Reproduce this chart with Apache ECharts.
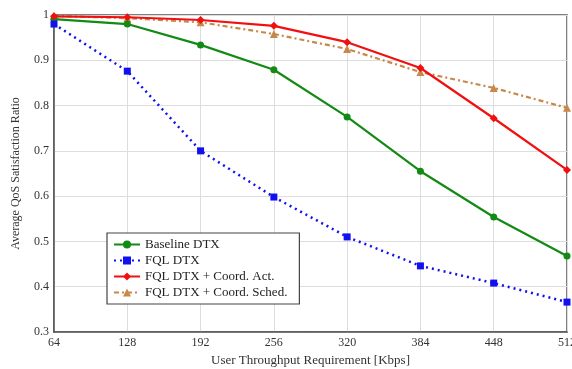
<!DOCTYPE html>
<html><head><meta charset="utf-8">
<script src="https://cdn.jsdelivr.net/npm/echarts@6/dist/echarts.min.js"></script>
<style>html,body{margin:0;padding:0;background:#fff}#c{width:572px;height:369px}</style>
</head><body><div id="c"></div>
<script>
const xValues = [64, 128, 192, 256, 320, 384, 448, 512];
const baselineDTX = [0.991, 0.980, 0.934, 0.879, 0.775, 0.655, 0.554, 0.468];
const fqlDTX = [0.980, 0.876, 0.700, 0.598, 0.510, 0.446, 0.408, 0.366];
const fqlCoordAct = [0.997, 0.995, 0.989, 0.976, 0.940, 0.883, 0.772, 0.658];
const fqlCoordSched = [0.998, 0.993, 0.984, 0.958, 0.925, 0.874, 0.839, 0.795];
const seriesNames = ['Baseline DTX', 'FQL DTX', 'FQL DTX + Coord. Act.', 'FQL DTX + Coord. Sched.'];

const pair = arr => xValues.map((x, i) => [x, arr[i]]);
const font = 'Liberation Serif, DejaVu Serif, serif';
const chart = echarts.init(document.getElementById('c'));
chart.setOption({
  animation: false,
  textStyle: {fontFamily: font},
  grid: {left: 54, right: 5, top: 15, bottom: 37, outerBoundsMode: 'none', containLabel: false,
    show: true, borderColor: '#555', borderWidth: 1.5, backgroundColor: 'transparent'},
  legend: {
    orient: 'vertical', left: 107, top: 233,
    backgroundColor: '#fff', borderColor: '#444', borderWidth: 1.2,
    padding: [5, 12, 5, 6], itemGap: 3, itemWidth: 26, itemHeight: 10,
    textStyle: {fontFamily: font, fontSize: 13, color: '#222'},
    data: seriesNames
  },
  xAxis: {
    type: 'value', min: 64, max: 512, interval: 64,
    name: 'User Throughput Requirement [Kbps]', nameLocation: 'middle', nameGap: 20,
    nameTextStyle: {fontFamily: font, fontSize: 13, color: '#333'},
    axisLine: {show: true, lineStyle: {color: '#555', width: 1.5}},
    axisTick: {show: false},
    axisLabel: {fontFamily: font, fontSize: 12, color: '#333', margin: 5},
    splitLine: {show: true, lineStyle: {color: '#ddd', width: 1}}
  },
  yAxis: {
    type: 'value', min: 0.3, max: 1, interval: 0.1,
    name: 'Average QoS Satisfaction Ratio', nameLocation: 'middle', nameGap: 32,
    nameTextStyle: {fontFamily: font, fontSize: 12, color: '#333'},
    axisLine: {show: true, lineStyle: {color: '#555', width: 1.5}},
    axisTick: {show: false},
    axisLabel: {fontFamily: font, fontSize: 12, color: '#333', margin: 5,
      formatter: v => (Math.abs(v - 1) < 1e-9 ? '1' : v.toFixed(1))},
    splitLine: {show: true, lineStyle: {color: '#ddd', width: 1}}
  },
  series: [
    {name: seriesNames[0], type: 'line', data: pair(baselineDTX), color: '#138a13',
     symbol: 'circle', symbolSize: 7, lineStyle: {width: 2.2}},
    {name: seriesNames[1], type: 'line', data: pair(fqlDTX), color: '#1010f0',
     symbol: 'rect', symbolSize: 7, lineStyle: {width: 2.5, type: [2, 4]}},
    {name: seriesNames[2], type: 'line', data: pair(fqlCoordAct), color: '#f01010',
     symbol: 'diamond', symbolSize: 8, lineStyle: {width: 2.2}},
    {name: seriesNames[3], type: 'line', data: pair(fqlCoordSched), color: '#c8884a',
     symbol: 'triangle', symbolSize: 8, lineStyle: {width: 2.2, type: [5, 3, 2, 3]}, z: 1}
  ]
});
</script></body></html>
